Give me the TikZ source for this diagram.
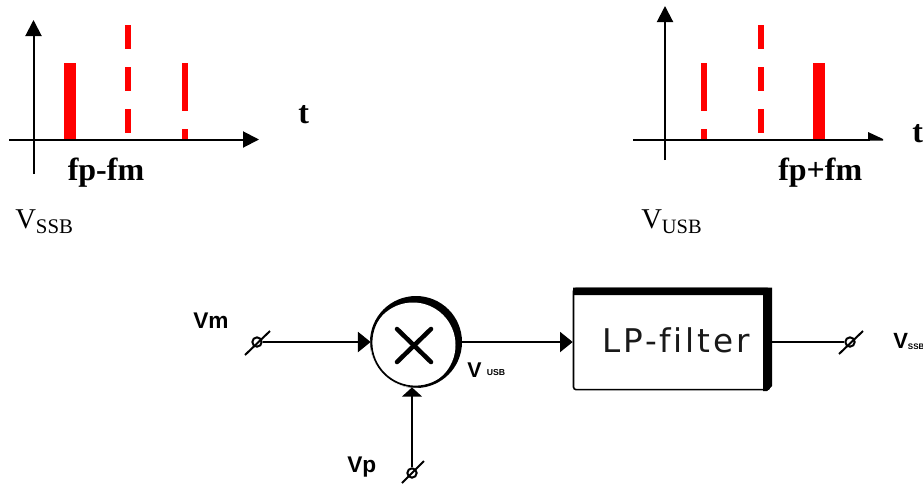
\documentclass[tikz,border=0pt]{standalone}
\usepackage{fontspec}
\setmainfont{Liberation Serif}
\setsansfont{Liberation Sans}
\newfontfamily\lpfont[LetterSpace=8.5,Ligatures=NoCommon]{DejaVu Sans}
\usetikzlibrary{arrows.meta}
\tikzset{
  x=0.75pt,y=-0.75pt,
  axisline/.style={draw=black,line width=1.5pt,-{Triangle[length=12pt,width=12pt]}},
  axisplain/.style={draw=black,line width=1.5pt},
  flowline/.style={draw=black,line width=1.5pt,-{Triangle[length=9.5pt,width=15pt]}},
  flowshort/.style={draw=black,line width=1.5pt,-{Triangle[length=7pt,width=15pt]}},
  plainline/.style={draw=black,line width=2pt},
  slashline/.style={draw=black,line width=1.5pt},
  terminal/.style={circle,draw=black,line width=1.5pt,fill=white,minimum size=7pt,inner sep=0pt},
  redbar/.style={fill=red,draw=none},
  lbl/.style={inner sep=0pt,anchor=base west},
  boldlbl/.style={lbl,font=\fontsize{24}{26}\selectfont\bfseries},
  vlbl/.style={lbl,font=\fontsize{21.5}{24}\selectfont},
  sanslbl/.style={lbl,font=\sffamily\bfseries\fontsize{17}{19}\selectfont},
}
\newcommand{\sigbars}[4]{%
  \fill[redbar] (#1+#2,63) rectangle (#1+#2+12,140);
  \fill[redbar] (#1+#3,63) rectangle (#1+#3+6,111);
  \fill[redbar] (#1+#3,129) rectangle (#1+#3+6,140);
  \fill[redbar] (#1+#4,25) rectangle (#1+#4+6,49);
  \fill[redbar] (#1+#4,67) rectangle (#1+#4+6,91);
  \fill[redbar] (#1+#4,109) rectangle (#1+#4+6,133);
}
\begin{document}
\begin{tikzpicture}
\useasboundingbox (0,0) rectangle (923,483);
% left plot
\sigbars{0}{64}{182}{124.5}
\coordinate (la0) at (33.5,174); \coordinate (la1) at (33.5,20);
\coordinate (lb0) at (9,139.5); \coordinate (lb1) at (259,139.5);
\draw[axisline] (la0) -- (la1);
\draw[axisline] (lb0) -- (lb1);
\node[boldlbl] (lt) at (298,123) {t};
\node[boldlbl] (lf) at (67.5,180.5) {fp-fm};
\node[vlbl] (lv) at (15,228) {V\raisebox{-4pt}{\fontsize{15.6}{17}\selectfont SSB}};
% right plot
\sigbars{0}{813}{701}{758}
\coordinate (ra0) at (665,160); \coordinate (ra1) at (665,6);
\coordinate (rb0) at (633,139.5); \coordinate (rb1) at (870,139.5);
\draw[axisline] (ra0) -- (ra1);
\draw[axisplain] (rb0) -- (rb1);
\fill[black] (868,132) -- (883,139) -- (883,140.5) -- (868,140.5) -- cycle;
\node[boldlbl] (rt) at (912,142.5) {t};
\node[boldlbl] (rf) at (778,180.5) {fp+fm};
\node[vlbl] (rv) at (641,228) {V\raisebox{-4pt}{\fontsize{15.3}{17}\selectfont USB}};
% block diagram
\fill[black] (416,342) circle[radius=46];
\fill[white] (413,345) circle[radius=42.5];
\node[circle,draw=black,line width=1.3pt,minimum size=66pt,inner sep=0pt] (mix) at (415.5,342.5) {};
\draw[black,line width=3.4pt,line cap=round] (397,329) -- (431,362);
\draw[black,line width=3.4pt,line cap=round] (431,329) -- (397,362);
\node[draw=black,line width=1.2pt,minimum width=147pt,minimum height=76pt,inner sep=0pt,rounded corners=2pt] (lp) at (671.5,339) {};
\fill[black] (573,287.5) -- (772,287.5) -- (772,386) -- (767,391) -- (763,391) -- (763,295) -- (573,295) -- cycle;
\node[inner sep=0pt,font=\lpfont\fontsize{24.5}{26}\selectfont,text=black!90] (lptext) at (676,340) {LP-filter};
\node[terminal] (sm) at (257,342) {};
\node[terminal] (sp) at (412,473) {};
\node[terminal] (so) at (850,342) {};
\coordinate (sm0) at (245,355); \coordinate (sm1) at (270,331);
\coordinate (sp0) at (402,483); \coordinate (sp1) at (424,461);
\coordinate (so0) at (839,354); \coordinate (so1) at (863,331);
\draw[slashline] (sm0) -- (sm1);
\draw[slashline] (sp0) -- (sp1);
\draw[slashline] (so0) -- (so1);
\draw[flowline] (sm) -- (mix.west |- sm);
\draw[flowshort] (sp) -- (mix.south -| sp);
\draw[flowline] (mix.east |- sm) -- (lp.west |- sm);
\draw[plainline] (lp.east |- so) -- (so);
\node[sanslbl] (vm) at (193,328) {Vm};
\node[sanslbl] (vp) at (347,472) {Vp};
\node[lbl,font=\sffamily\bfseries\fontsize{16}{18}\selectfont] (vu) at (467,377) {V\hspace{4pt}\raisebox{1pt}{\fontsize{6.5}{7}\selectfont USB}};
\node[lbl,font=\sffamily\bfseries\fontsize{16.5}{18}\selectfont] (vs) at (893,348) {V\raisebox{-1pt}{\fontsize{6}{7}\selectfont SSB}};
\end{tikzpicture}
\end{document}
